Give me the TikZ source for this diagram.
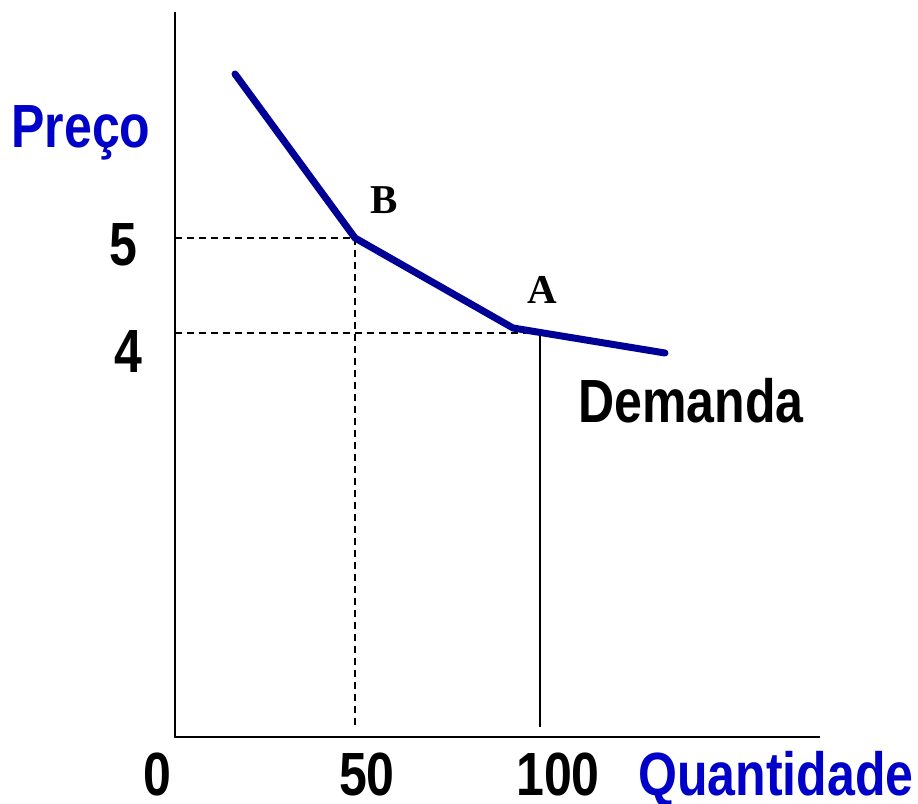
\documentclass[tikz,border=0pt]{standalone}
\usepackage{fontspec}
\setmainfont{Liberation Serif}
\newfontfamily\narrowsans{Liberation Sans}[FakeStretch=0.82]
\definecolor{eixoazul}{RGB}{0,0,200}
\definecolor{curvaazul}{RGB}{0,0,150}
\tikzset{
  rotulo/.style={anchor=base,inner sep=0pt,font=\narrowsans\fontsize{61}{61}\selectfont\bfseries},
  ponto/.style={anchor=base,inner sep=0pt,font=\fontsize{41}{41}\selectfont\bfseries},
  guia/.style={dashed,dash pattern=on 7pt off 5pt,line width=1.8pt}
}
\begin{document}
\begin{tikzpicture}[x=1pt,y=-1pt]
      \useasboundingbox (0,0) rectangle (918,803);
      % eixos
      \coordinate (topo) at (175,12);
      \coordinate (O) at (175,737);
      \coordinate (fim) at (820,737);
      \draw[line width=2.8pt] (topo) -- (O) -- (fim);
      % curva de demanda
      \coordinate (c0) at (235,74);
      \coordinate (B) at (355,238);
      \coordinate (A) at (513,328);
      \coordinate (c3) at (665,353);
      \coordinate (p5) at (175,238);
      \coordinate (p4) at (175,333);
      \coordinate (A1) at (540,333);
      \coordinate (q50) at (355,727);
      \coordinate (q100) at (540,727);
      \draw[guia] (p5) -- (B) -- (q50);
      \draw[guia] (p4) -- (A1);
      \draw[line width=1.8pt] (A1) -- (q100);
      \draw[curvaazul,line width=7pt,line cap=round,line join=round]
        (c0) -- (B) -- (A) -- (c3);
      % textos
      \node[rotulo,eixoazul] (preco) at (81,147) {Preço};
      \node[rotulo] (cinco) at (123,265) {5};
      \node[rotulo] (quatro) at (128,372) {4};
      \node[ponto] (lb) at (384,213) {B};
      \node[ponto] (la) at (542,303) {A};
      \node[rotulo] (demanda) at (691,422) {Demanda};
      \node[rotulo] (zero) at (157,795) {0};
      \node[rotulo] (cinquenta) at (367,795) {50};
      \node[rotulo] (cem) at (558,795) {100};
      \node[rotulo,eixoazul] (quant) at (776,795) {Quantidade};
    \end{tikzpicture}
\end{document}
